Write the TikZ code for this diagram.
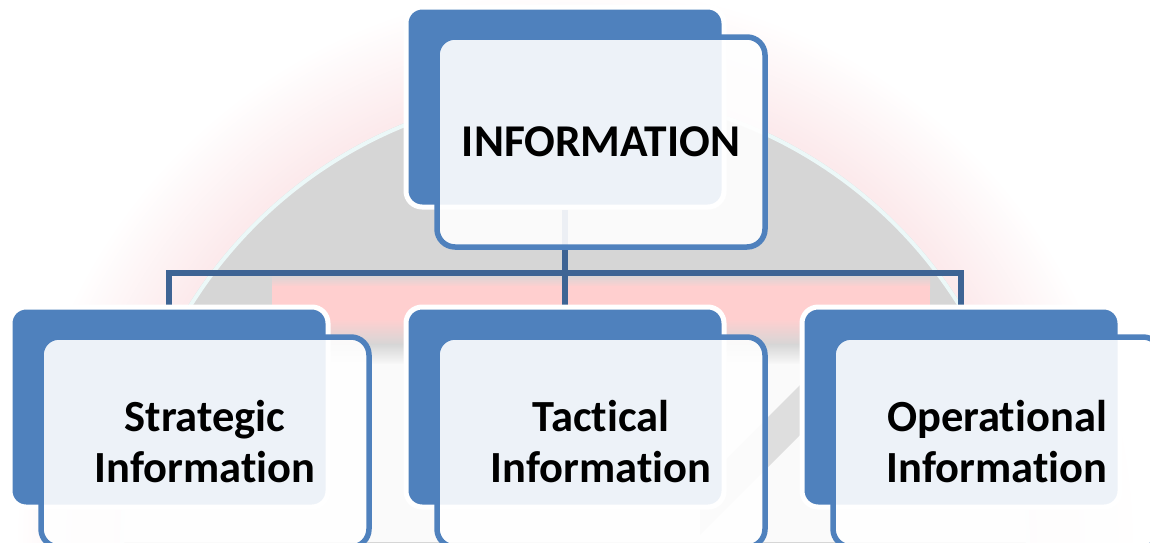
\documentclass[tikz,border=0pt]{standalone}
\usepackage{fontspec}
\setmainfont{Carlito}[Ligatures=CommonOff]

\definecolor{boxblue}{RGB}{79,129,189}
\definecolor{linkblue}{RGB}{62,100,148}
\definecolor{markgrey}{RGB}{214,214,214}
\definecolor{markpink}{RGB}{255,207,207}
\definecolor{halopink}{RGB}{252,234,236}
\definecolor{rimwhite}{RGB}{236,248,248}
\definecolor{lowwhite}{RGB}{250,250,250}
\definecolor{stripegrey}{RGB}{222,222,222}

% soft pink glow around the grey disc of the watermark
\pgfdeclareradialshading{markhalo}{\pgfpoint{0bp}{0bp}}{%
  color(0bp)=(halopink); color(20.5bp)=(halopink);
  color(25bp)=(white); color(50bp)=(white)}

\pgfdeclarelayer{mark}
\pgfdeclarelayer{links}
\pgfsetlayers{mark,links,main}

\tikzset{
  backbox/.style={draw=white, line width=5pt, fill=boxblue,
    rounded corners=16pt, minimum width=318pt, minimum height=200pt,
    inner sep=0pt},
  frontbox/.style={draw=boxblue, line width=5.5pt, fill=white,
    fill opacity=0.9, text opacity=1, rounded corners=18pt,
    minimum width=328pt, minimum height=210pt, inner sep=0pt,
    align=center, text=black},
  toplabel/.style={font=\bfseries\fontsize{45.5}{52}\selectfont},
  sublabel/.style={font=\bfseries\fontsize{44.5}{51}\selectfont},
  link/.style={draw=linkblue, line width=5.5pt},
}

\begin{document}
\begin{tikzpicture}[x=1pt,y=-1pt]
  \useasboundingbox (0,0) rectangle (1150,542);
  \clip (0,0) rectangle (1150,542);

  % top box
  \node[backbox]  (Tback)  at (565,107) {};
  \node[frontbox, toplabel] (Tfront) at (601,142) {INFORMATION};

  % lower row
  \node[backbox]  (Lback)  at (169,407) {};
  \node[frontbox, sublabel] (Lfront) at (205,442) {Strategic\\Information};
  \node[backbox]  (Mback)  at (565,407) {};
  \node[frontbox, sublabel] (Mfront) at (601,442) {Tactical\\Information};
  \node[backbox]  (Rback)  at (961,407) {};
  \node[frontbox, sublabel] (Rfront) at (997,442) {Operational\\Information};

  % connectors, behind the boxes
  \coordinate (bar) at (565,273);
  \begin{pgfonlayer}{links}
    \draw[link] (Tback.south) -- (Mback.north);
    \draw[link] (Lback.north) |- (bar) -| (Rback.north);
  \end{pgfonlayer}

  % faint watermark behind everything
  \begin{pgfonlayer}{mark}
    \begin{scope}
      \clip (0,0) rectangle (1150,542);
      \fill[white] (0,0) rectangle (1150,542);
      \shade[shading=markhalo] (575,545) circle[radius=560];
      \fill[markgrey] (575,545) circle[radius=455];
      \begin{scope}
        \clip (575,545) circle[radius=455];
        \shade[top color=markgrey, bottom color=markpink] (272,274) rectangle (930,287);
        \fill[markpink] (272,286) rectangle (930,320);
        \shade[top color=markpink, bottom color=markgrey] (272,319) rectangle (930,345);
        \shade[top color=markgrey, bottom color=lowwhite] (0,344) rectangle (1150,365);
        \fill[lowwhite] (0,364) rectangle (1150,542);
        \fill[stripegrey] (700,485) -- (860,325) -- (860,375) -- (700,535) -- cycle;
      \end{scope}
      \draw[rimwhite, line width=4pt] (575,545) circle[radius=453];
    \end{scope}
  \end{pgfonlayer}
\end{tikzpicture}
\end{document}
